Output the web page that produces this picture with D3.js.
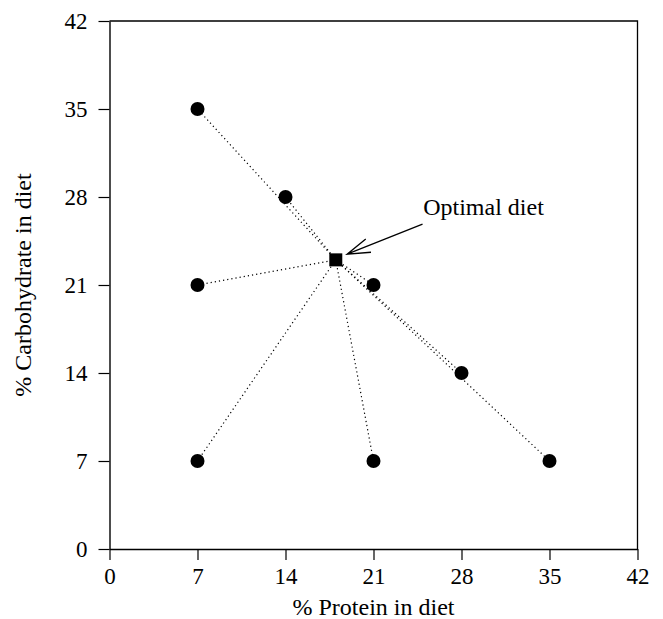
<!DOCTYPE html>
<html>
<head>
<meta charset="utf-8">
<script src="https://cdn.jsdelivr.net/npm/d3@7"></script>
<style>
  body { margin: 0; background: #fff; }
  text { font-family: "Liberation Serif", "Times New Roman", serif; fill: #000; }
</style>
</head>
<body>
<div id="chart"></div>
<script>
// ------------------------------------------------------
// Données
// ------------------------------------------------------
const proteinValues = [7, 14, 7, 21, 28, 35, 7, 21];
const carbValues    = [35, 28, 21, 21, 14, 7, 7, 7];

const optimalDiet = { protein: 18, carb: 23 };

const tickValues = [0, 7, 14, 21, 28, 35, 42];

const annotationLabel = "Optimal diet";
const annotationText  = { protein: 24.95, carb: 26.6 };   // début du texte
const arrowTail       = { protein: 24.9, carb: 25.85 };
const arrowTip        = { protein: 18.9, carb: 23.45 };

const xTitle = "% Protein in diet";
const yTitle = "% Carbohydrate in diet";

// ------------------------------------------------------
// Graphique
// ------------------------------------------------------
const width = 663;
const height = 619;
const margin = { top: 21, right: 25.5, bottom: 70, left: 109.5 };

const svg = d3.select("#chart").append("svg")
  .attr("width", width)
  .attr("height", height);

const x = d3.scaleLinear()
  .domain([0, 42])
  .range([margin.left, width - margin.right]);

const y = d3.scaleLinear()
  .domain([0, 42])
  .range([height - margin.bottom, margin.top]);

// cadre haut + droite
svg.append("path")
  .attr("d", `M${x(0)},${y(42)}H${x(42)}V${y(0)}`)
  .attr("fill", "none")
  .attr("stroke", "#000")
  .attr("stroke-width", 1.3);

// axe X
const gx = svg.append("g")
  .attr("transform", `translate(0,${y(0)})`)
  .call(d3.axisBottom(x).tickValues(tickValues).tickSize(11).tickSizeOuter(0).tickPadding(8));

// axe Y
const gy = svg.append("g")
  .attr("transform", `translate(${x(0)},0)`)
  .call(d3.axisLeft(y).tickValues(tickValues).tickSize(11).tickSizeOuter(0).tickPadding(11));

[gx, gy].forEach(g => {
  g.select(".domain").attr("stroke-width", 1.4);
  g.selectAll(".tick line").attr("stroke-width", 1.2);
  g.selectAll(".tick text")
    .style("font-family", "'Liberation Serif', 'Times New Roman', serif")
    .style("font-size", "23px")
    .attr("fill", "#000");
});
gx.selectAll(".tick text").attr("dy", "0.7em");
gy.selectAll(".tick text").attr("dy", "0.34em");

// lignes pointillées vers l'optimum
svg.append("g")
  .selectAll("line")
  .data(proteinValues)
  .join("line")
  .attr("x1", x(optimalDiet.protein))
  .attr("y1", y(optimalDiet.carb))
  .attr("x2", d => x(d))
  .attr("y2", (d, i) => y(carbValues[i]))
  .attr("stroke", "#000")
  .attr("stroke-width", 1.2)
  .attr("stroke-dasharray", "1.2,3");

// points
svg.append("g")
  .selectAll("circle")
  .data(proteinValues)
  .join("circle")
  .attr("cx", d => x(d))
  .attr("cy", (d, i) => y(carbValues[i]))
  .attr("r", 7)
  .attr("fill", "#000");

// optimum (carré)
const sq = 13;
svg.append("rect")
  .attr("x", x(optimalDiet.protein) - sq / 2)
  .attr("y", y(optimalDiet.carb) - sq / 2)
  .attr("width", sq)
  .attr("height", sq)
  .attr("fill", "#000");

// flèche
const tx = x(arrowTail.protein), ty = y(arrowTail.carb);
const hx = x(arrowTip.protein), hy = y(arrowTip.carb);
const ang = Math.atan2(ty - hy, tx - hx);
const headLen = 24, spread = 0.3;
svg.append("path")
  .attr("d",
    `M${tx},${ty}L${hx},${hy}` +
    `M${hx + headLen * Math.cos(ang + spread)},${hy + headLen * Math.sin(ang + spread)}L${hx},${hy}` +
    `L${hx + headLen * Math.cos(ang - spread)},${hy + headLen * Math.sin(ang - spread)}`)
  .attr("fill", "none")
  .attr("stroke", "#000")
  .attr("stroke-width", 1.3);

svg.append("text")
  .attr("x", x(annotationText.protein))
  .attr("y", y(annotationText.carb))
  .style("font-size", "24px")
  .text(annotationLabel);

// titres des axes
svg.append("text")
  .attr("x", (x(0) + x(42)) / 2)
  .attr("y", 615)
  .attr("text-anchor", "middle")
  .style("font-size", "24px")
  .text(xTitle);

svg.append("text")
  .attr("transform", `translate(31,${(y(0) + y(42)) / 2}) rotate(-90)`)
  .attr("text-anchor", "middle")
  .style("font-size", "24px")
  .text(yTitle);
</script>
</body>
</html>
